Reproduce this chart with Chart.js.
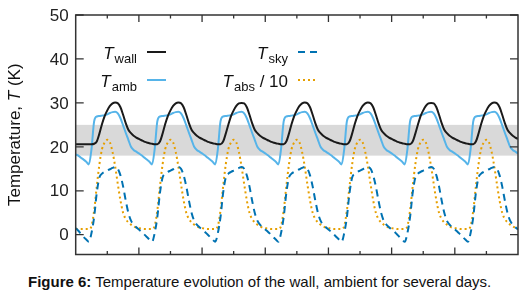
<!DOCTYPE html>
<html>
<head>
<meta charset="utf-8">
<script src="https://cdn.jsdelivr.net/npm/chart.js@4.4.1/dist/chart.umd.min.js"></script>
<style>
  body { margin: 0; background: #fff; }
  #tempChart { display: block; }
  #caption {
    position: absolute; left: 28px; top: 273px;
    font: 15px "Liberation Sans", Arial, sans-serif; color: #111; white-space: nowrap;
  }
</style>
</head>
<body>
<canvas id="tempChart" width="527" height="262"></canvas>
<div id="caption"><b>Figure 6:</b> Temperature evolution of the wall, ambient for several days.</div>
<script>
// hourly samples over 7 days
const hours = Array.from({ length: 169 }, (_, i) => i);

const tWall = [
  20.6, 20.6, 20.6, 20.6, 20.6, 20.6, 20.6, 20.7, 21.2, 23.0, 25.2, 27.0, 28.3, 29.3, 29.9, 30.1, 29.9, 29.0, 27.3, 25.4, 23.9, 23.1, 22.5, 22.1,
  21.8, 21.5, 21.2, 21.0, 20.8, 20.7, 20.6, 20.6, 21.2, 23.0, 25.2, 27.0, 28.3, 29.3, 29.9, 30.1, 29.9, 29.0, 27.3, 25.4, 23.9, 23.1, 22.5, 22.1,
  21.8, 21.5, 21.2, 21.0, 20.8, 20.7, 20.6, 20.6, 21.2, 23.0, 25.1, 27.0, 28.3, 29.3, 29.9, 30.0, 29.9, 29.0, 27.3, 25.4, 23.9, 23.1, 22.5, 22.1,
  21.8, 21.5, 21.2, 21.0, 20.8, 20.7, 20.6, 20.6, 21.2, 23.0, 25.2, 27.0, 28.3, 29.3, 29.9, 30.1, 29.9, 29.0, 27.3, 25.4, 23.9, 23.1, 22.5, 22.1,
  21.8, 21.5, 21.2, 21.0, 20.8, 20.7, 20.6, 20.6, 21.2, 23.0, 25.2, 27.0, 28.3, 29.3, 29.9, 30.1, 29.9, 29.0, 27.3, 25.4, 23.9, 23.1, 22.5, 22.1,
  21.8, 21.5, 21.2, 21.0, 20.8, 20.7, 20.6, 20.6, 21.2, 23.0, 25.1, 27.0, 28.3, 29.3, 29.9, 30.0, 29.9, 29.0, 27.3, 25.4, 23.9, 23.1, 22.5, 22.1,
  21.8, 21.5, 21.2, 21.0, 20.8, 20.7, 20.6, 20.6, 21.2, 23.0, 25.2, 27.0, 28.3, 29.3, 29.9, 30.1, 29.9, 29.0, 27.3, 25.4, 23.9, 23.1, 22.5, 22.1,
  21.8
];

const tAmb = [
  18.3, 18.0, 17.5, 17.1, 16.6, 16.0, 19.5, 25.8, 26.9, 27.0, 27.1, 27.2, 27.4, 27.7, 27.9, 28.0, 27.6, 26.5, 24.9, 23.2, 21.6, 20.0, 19.3, 18.9,
  18.5, 18.1, 17.6, 17.1, 16.6, 16.0, 19.5, 25.8, 26.9, 27.0, 27.1, 27.2, 27.4, 27.7, 27.9, 28.0, 27.6, 26.5, 24.9, 23.2, 21.6, 20.0, 19.3, 18.9,
  18.5, 18.1, 17.6, 17.1, 16.6, 16.0, 19.5, 25.8, 26.9, 27.0, 27.1, 27.2, 27.4, 27.7, 27.9, 28.0, 27.6, 26.5, 24.9, 23.2, 21.6, 20.0, 19.3, 18.9,
  18.5, 18.1, 17.6, 17.1, 16.6, 16.0, 19.5, 25.8, 26.9, 27.0, 27.1, 27.2, 27.4, 27.7, 27.9, 28.0, 27.6, 26.5, 24.9, 23.2, 21.6, 20.0, 19.3, 18.9,
  18.5, 18.1, 17.6, 17.1, 16.6, 16.0, 19.5, 25.8, 26.9, 27.0, 27.1, 27.2, 27.4, 27.7, 27.9, 28.0, 27.6, 26.5, 24.9, 23.2, 21.6, 20.0, 19.3, 18.9,
  18.5, 18.1, 17.6, 17.1, 16.6, 16.0, 19.5, 25.8, 26.9, 27.0, 27.1, 27.2, 27.4, 27.7, 27.9, 28.0, 27.6, 26.5, 24.9, 23.2, 21.6, 20.0, 19.3, 18.9,
  18.5, 18.1, 17.6, 17.1, 16.6, 16.0, 19.5, 25.8, 26.9, 27.0, 27.1, 27.2, 27.4, 27.7, 27.9, 28.0, 27.6, 26.5, 24.9, 23.2, 21.6, 20.0, 19.3, 18.9,
  18.5
];

const tSky = [
  1.5, 0.9, 0.2, -0.5, -1.1, -1.6, 0.4, 4.0, 9.5, 13.0, 13.9, 14.3, 14.6, 14.9, 15.2, 15.4, 15.0, 13.5, 11.0, 7.8, 5.0, 3.2, 2.3, 1.7,
  1.2, 0.7, 0.1, -0.5, -1.1, -1.6, 0.4, 4.0, 9.5, 13.0, 13.9, 14.3, 14.6, 14.9, 15.2, 15.4, 15.0, 13.5, 11.0, 7.8, 5.0, 3.2, 2.3, 1.7,
  1.2, 0.7, 0.1, -0.5, -1.1, -1.6, 0.4, 4.0, 9.5, 13.0, 13.9, 14.3, 14.6, 14.9, 15.2, 15.4, 15.0, 13.5, 11.0, 7.8, 5.0, 3.2, 2.3, 1.7,
  1.2, 0.7, 0.1, -0.5, -1.1, -1.6, 0.4, 4.0, 9.5, 13.0, 13.9, 14.3, 14.6, 14.9, 15.2, 15.4, 15.0, 13.5, 11.0, 7.8, 5.0, 3.2, 2.3, 1.7,
  1.2, 0.7, 0.1, -0.5, -1.1, -1.6, 0.4, 4.0, 9.5, 13.0, 13.9, 14.3, 14.6, 14.9, 15.2, 15.4, 15.0, 13.5, 11.0, 7.8, 5.0, 3.2, 2.3, 1.7,
  1.2, 0.7, 0.1, -0.5, -1.1, -1.6, 0.4, 4.0, 9.5, 13.0, 13.9, 14.3, 14.6, 14.9, 15.2, 15.4, 15.0, 13.5, 11.0, 7.8, 5.0, 3.2, 2.3, 1.7,
  1.2, 0.7, 0.1, -0.5, -1.1, -1.6, 0.4, 4.0, 9.5, 13.0, 13.9, 14.3, 14.6, 14.9, 15.2, 15.4, 15.0, 13.5, 11.0, 7.8, 5.0, 3.2, 2.3, 1.7,
  1.2
];

const tAbsTenth = [
  1.3, 1.3, 1.3, 1.3, 1.3, 1.3, 2.0, 5.5, 11.0, 16.0, 19.5, 21.0, 21.6, 21.0, 18.8, 15.5, 11.5, 7.8, 5.0, 3.6, 2.8, 2.3, 1.9, 1.6,
  1.5, 1.4, 1.3, 1.3, 1.3, 1.3, 2.0, 5.5, 11.0, 16.0, 19.5, 21.0, 21.6, 21.0, 18.8, 15.5, 11.5, 7.8, 5.0, 3.6, 2.8, 2.3, 1.9, 1.6,
  1.5, 1.4, 1.3, 1.3, 1.3, 1.3, 2.0, 5.5, 11.0, 16.0, 19.5, 21.0, 21.6, 21.0, 18.8, 15.5, 11.5, 7.8, 5.0, 3.6, 2.8, 2.3, 1.9, 1.6,
  1.5, 1.4, 1.3, 1.3, 1.3, 1.3, 2.0, 5.5, 11.0, 16.0, 19.5, 21.0, 21.6, 21.0, 18.8, 15.5, 11.5, 7.8, 5.0, 3.6, 2.8, 2.3, 1.9, 1.6,
  1.5, 1.4, 1.3, 1.3, 1.3, 1.3, 2.0, 5.5, 11.0, 16.0, 19.5, 21.0, 21.6, 21.0, 18.8, 15.5, 11.5, 7.8, 5.0, 3.6, 2.8, 2.3, 1.9, 1.6,
  1.5, 1.4, 1.3, 1.3, 1.3, 1.3, 2.0, 5.5, 11.0, 16.0, 19.5, 21.0, 21.6, 21.0, 18.8, 15.5, 11.5, 7.8, 5.0, 3.6, 2.8, 2.3, 1.9, 1.6,
  1.5, 1.4, 1.3, 1.3, 1.3, 1.3, 2.0, 5.5, 11.0, 16.0, 19.5, 21.0, 21.6, 21.0, 18.8, 15.5, 11.5, 7.8, 5.0, 3.6, 2.8, 2.3, 1.9, 1.6,
  1.5
];

const yTicks = [0, 10, 20, 30, 40, 50];
const xTicks = [12, 24, 36, 48, 60, 72, 84, 96, 108, 120, 132, 144, 156];
const comfortBand = [18, 25];

const FONT = '"Liberation Sans", Arial, sans-serif';
const colWall = '#1a1a1a', colAmb = '#56b4e9', colSky = '#0072b2', colAbs = '#e69f00';

const keys = [
  { sub: 'wall', tail: '', color: colWall, dash: [], col: 0, row: 0 },
  { sub: 'amb', tail: '', color: colAmb, dash: [], col: 0, row: 1 },
  { sub: 'sky', tail: '', color: colSky, dash: [7, 5], col: 1, row: 0 },
  { sub: 'abs', tail: ' / 10', color: colAbs, dash: [2, 3], col: 1, row: 1 }
];

function series(vals) {
  return vals.map((v, i) => ({ x: hours[i], y: v }));
}

const decor = {
  id: 'decor',
  beforeDatasetsDraw(chart) {
    const { ctx, chartArea: a, scales: { y } } = chart;
    const top = y.getPixelForValue(comfortBand[1]);
    const bot = y.getPixelForValue(comfortBand[0]);
    ctx.save();
    ctx.fillStyle = '#d9d9d9';
    ctx.fillRect(a.left, top, a.right - a.left, bot - top);
    ctx.restore();
  },
  afterDraw(chart) {
    const { ctx, chartArea: a, scales: { x, y } } = chart;
    ctx.save();
    // frame
    ctx.strokeStyle = '#333';
    ctx.lineWidth = 1.5;
    ctx.strokeRect(a.left, a.top, a.right - a.left, a.bottom - a.top);
    // inward ticks + y labels
    ctx.lineWidth = 1.3;
    ctx.beginPath();
    ctx.fillStyle = '#222';
    ctx.font = '17px ' + FONT;
    ctx.textAlign = 'right';
    ctx.textBaseline = 'middle';
    yTicks.forEach(v => {
      const py = y.getPixelForValue(v);
      ctx.moveTo(a.left, py); ctx.lineTo(a.left + 8, py);
      ctx.moveTo(a.right, py); ctx.lineTo(a.right - 8, py);
      ctx.fillText(String(v), a.left - 7, py + 1);
    });
    xTicks.forEach(h => {
      const px = x.getPixelForValue(h);
      const len = h % 24 === 0 ? 7 : 3.5;
      ctx.moveTo(px, a.bottom); ctx.lineTo(px, a.bottom - len);
      ctx.moveTo(px, a.top); ctx.lineTo(px, a.top + len);
    });
    ctx.stroke();

    // key
    ctx.textBaseline = 'alphabetic';
    ctx.textAlign = 'left';
    keys.forEach(k => {
      const xr = k.col === 0 ? 137 : 288;
      const base = k.row === 0 ? 59 : 87;
      const ly = k.row === 0 ? 52 : 80;
      ctx.fillStyle = '#111';
      ctx.font = '17px ' + FONT;
      const wTail = k.tail ? ctx.measureText(k.tail).width : 0;
      ctx.font = '13px ' + FONT;
      const wSub = ctx.measureText(k.sub).width;
      ctx.font = 'italic 17px ' + FONT;
      const wT = ctx.measureText('T').width;
      let cx = xr - wTail - wSub - wT - 1;
      ctx.fillText('T', cx, base);
      cx += wT + 1;
      ctx.font = '13px ' + FONT;
      ctx.fillText(k.sub, cx, base + 3.5);
      cx += wSub;
      if (k.tail) {
        ctx.font = '17px ' + FONT;
        ctx.fillText(k.tail, cx, base);
      }
      const lx = k.col === 0 ? 147 : 298;
      ctx.strokeStyle = k.color;
      ctx.lineWidth = 2;
      ctx.setLineDash(k.dash);
      ctx.beginPath();
      ctx.moveTo(lx, ly); ctx.lineTo(lx + 19, ly);
      ctx.stroke();
      ctx.setLineDash([]);
    });

    // y axis title with italic T
    const parts = [['Temperature, ', '17px '], ['T', 'italic 17px '], [' (K)', '17px ']];
    let total = 0;
    parts.forEach(p => { ctx.font = p[1] + FONT; total += ctx.measureText(p[0]).width; });
    ctx.translate(20, (a.top + a.bottom) / 2);
    ctx.rotate(-Math.PI / 2);
    ctx.fillStyle = '#111';
    let px = -total / 2;
    parts.forEach(p => {
      ctx.font = p[1] + FONT;
      ctx.fillText(p[0], px, 0);
      px += ctx.measureText(p[0]).width;
    });
    ctx.restore();
  }
};

const lineStyle = { pointRadius: 0, borderWidth: 2, fill: false, cubicInterpolationMode: 'monotone' };

new Chart(document.getElementById('tempChart'), {
  type: 'line',
  data: {
    datasets: [
      { label: 'T_wall', data: series(tWall), borderColor: colWall, ...lineStyle },
      { label: 'T_amb', data: series(tAmb), borderColor: colAmb, ...lineStyle },
      { label: 'T_sky', data: series(tSky), borderColor: colSky, borderDash: [7, 5], ...lineStyle },
      { label: 'T_abs / 10', data: series(tAbsTenth), borderColor: colAbs, borderDash: [2, 3], ...lineStyle }
    ]
  },
  options: {
    responsive: false,
    animation: false,
    layout: { padding: { left: 75.7, right: 9, top: 15, bottom: 7.5 } },
    plugins: { legend: { display: false }, tooltip: { enabled: false } },
    scales: {
      x: { type: 'linear', min: 0, max: 168, display: false },
      y: { type: 'linear', min: -4.5, max: 50, display: false }
    }
  },
  plugins: [decor]
});
</script>
</body>
</html>
